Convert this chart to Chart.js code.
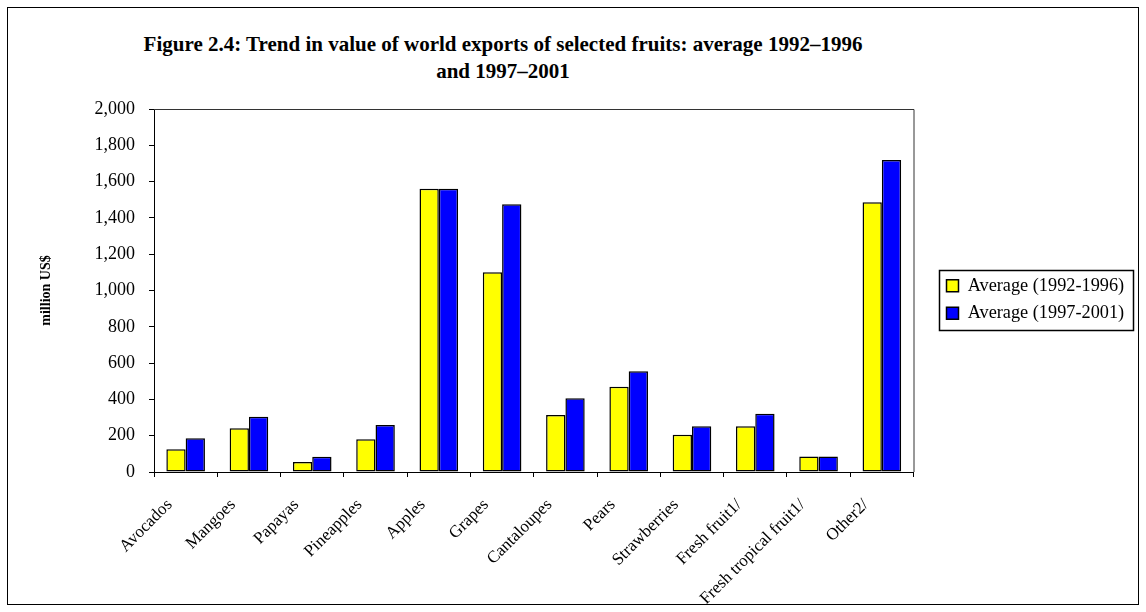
<!DOCTYPE html>
<html>
<head>
<meta charset="utf-8">
<script src="https://cdn.jsdelivr.net/npm/chart.js@4.4.1/dist/chart.umd.min.js"></script>
<style>
  html, body { margin: 0; padding: 0; background: #fff; }
  #frame { position: absolute; left: 7px; top: 7px; width: 1130px; height: 596px; border: 1.5px solid #000; }
  #title { position: absolute; left: 53px; width: 900px; top: 31px; text-align: center;
           font: bold 21px "Liberation Serif", serif; line-height: 27px; color: #000; }
  #wrap { position: absolute; left: 0; top: 0; width: 1146px; height: 612px; }
</style>
</head>
<body>
<div id="frame"></div>
<div id="title">Figure 2.4: Trend in value of world exports of selected fruits: average 1992–1996<br>and 1997–2001</div>
<div id="wrap"><canvas id="chart"></canvas></div>
<script>
  const categories = ["Avocados", "Mangoes", "Papayas", "Pineapples", "Apples", "Grapes",
    "Cantaloupes", "Pears", "Strawberries", "Fresh fruit1/", "Fresh tropical fruit1/", "Other2/"];
  const avg1992_1996 = [125, 241, 55, 180, 1560, 1100, 314, 470, 205, 252, 86, 1486];
  const avg1997_2001 = [186, 305, 84, 259, 1560, 1475, 406, 555, 252, 321, 86, 1719];
  const seriesNames = ["Average (1992-1996)", "Average (1997-2001)"];
  const yMax = 2000;
  const yStep = 200;

  const serif = "'Liberation Serif', 'Times New Roman', serif";
  Chart.defaults.font.family = serif;
  Chart.defaults.color = "#000";

  // plot area top/right border and the box round the legend
  const frames = {
    id: "frames",
    afterDraw(chart) {
      const { ctx, chartArea: a, legend } = chart;
      ctx.save();
      ctx.strokeStyle = "#333";
      ctx.lineWidth = 1;
      ctx.beginPath();
      ctx.moveTo(a.left, a.top + 0.5);
      ctx.lineTo(a.right + 0.5, a.top + 0.5);
      ctx.lineTo(a.right + 0.5, a.bottom);
      ctx.stroke();
      const hb = legend.legendHitBoxes;
      if (hb && hb.length) {
        const l = Math.min(...hb.map(h => h.left)) - 8;
        const r = Math.max(...hb.map(h => h.left + h.width)) + 8;
        const t = hb[0].top - 7;
        const b = hb[hb.length - 1].top + hb[hb.length - 1].height + 7;
        ctx.strokeStyle = "#000";
        ctx.lineWidth = 1.5;
        ctx.strokeRect(Math.round(l) + 0.5, Math.round(t) + 0.5, Math.round(r - l), Math.round(b - t));
      }
      ctx.restore();
    }
  };

  new Chart(document.getElementById("chart"), {
    type: "bar",
    data: {
      labels: categories,
      datasets: [
        { label: seriesNames[0], data: avg1992_1996, backgroundColor: "#ffff00" },
        { label: seriesNames[1], data: avg1997_2001, backgroundColor: "#0000ff" }
      ].map(d => Object.assign(d, {
        borderColor: "#000", borderWidth: 1.5, borderSkipped: false,
        categoryPercentage: 0.61, barPercentage: 1.0
      }))
    },
    options: {
      responsive: true,
      maintainAspectRatio: false,
      animation: false,
      layout: { padding: { left: 0, right: 21, top: 109, bottom: 0 } },
      plugins: {
        title: { display: false },
        tooltip: { enabled: false },
        legend: {
          position: "right",
          fullSize: false,
          title: { display: true, text: "", font: { size: 1, lineHeight: 1 }, padding: { top: 9, bottom: 8 } },
          labels: { font: { size: 18.3 }, color: "#000", boxWidth: 12, boxHeight: 12, padding: 9 }
        }
      },
      scales: {
        x: {
          grid: { drawOnChartArea: false, color: "#000", tickLength: 5, offset: true },
          border: { color: "#000", width: 1 },
          ticks: { font: { size: 17 }, color: "#000", maxRotation: 45, minRotation: 45, autoSkip: false,
                   padding: 18, labelOffset: -16 },
          afterFit: s => { s.height = 140; }
        },
        y: {
          min: 0, max: yMax,
          grid: { drawOnChartArea: false, color: "#000", tickLength: 5 },
          border: { color: "#000", width: 1 },
          ticks: { stepSize: yStep, font: { size: 18 }, color: "#000", padding: 14,
                   callback: v => v.toLocaleString("en-US") },
          title: { display: true, text: "million US$", font: { size: 14, weight: "bold" }, color: "#000",
                   padding: { top: 38, bottom: 0 } },
          afterFit: s => { s.width = 154; }
        },
        y2: {
          position: "right",
          display: true,
          grid: { display: false },
          border: { display: false },
          ticks: { display: false },
          afterFit: s => { s.width = 24; }
        }
      }
    },
    plugins: [frames]
  });
</script>
</body>
</html>
